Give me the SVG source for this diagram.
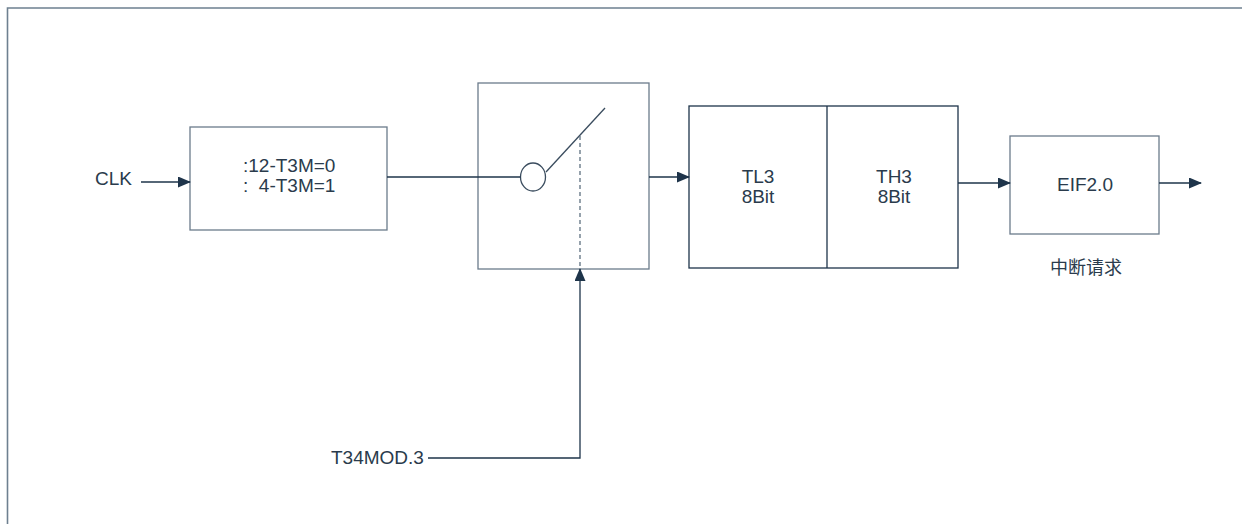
<svg xmlns="http://www.w3.org/2000/svg" width="1242" height="524" viewBox="0 0 1242 524">
<defs>
<style>
.box{fill:#fff;stroke:#6b7b8b;stroke-width:1.3}
.ln{fill:none;stroke:#1e344a;stroke-width:1.3}
.t{font-family:"Liberation Sans",Arial,sans-serif;font-size:19px;fill:#2a3b4c}
.c{text-anchor:middle}
.cjk{font-family:"Noto Sans CJK SC","Liberation Sans",sans-serif;font-size:18px;fill:#2a3b4c}
</style>
<marker id="ah" markerWidth="13" markerHeight="11" refX="12" refY="5.5" orient="auto" markerUnits="userSpaceOnUse">
<path d="M0,0 L13,5.5 L0,11 Z" fill="#1e344a"/>
</marker>
</defs>
<rect width="1242" height="524" fill="#fff"/>
<path d="M7.5,524 V8 H1242" fill="none" stroke="#6e8090" stroke-width="1.6"/>
<g id="clk"><text class="t" x="95" y="185">CLK</text></g>
<g id="divider">
<rect class="box" x="190" y="127" width="197" height="103"/>
<text class="t" x="243" y="172" style="white-space:pre">:12-T3M=0</text>
<text class="t" x="243" y="192" style="white-space:pre">:  4-T3M=1</text>
</g>
<g id="switch">
<rect class="box" x="478" y="83" width="171" height="186"/>
<ellipse cx="533" cy="177" rx="12.5" ry="14" fill="#fff" stroke="#3a4c5e" stroke-width="1.3"/>
<line x1="546" y1="172" x2="605" y2="108" stroke="#3a4c5e" stroke-width="1.3"/>
<line x1="580" y1="136" x2="580" y2="269" stroke="#5e7080" stroke-width="1.3" stroke-dasharray="4,3"/>
</g>
<g id="counter">
<rect class="box" x="689" y="106" width="269" height="162" style="stroke:#1e344a"/>
<line x1="827" y1="106" x2="827" y2="268" class="ln"/>
<text class="t c" x="758" y="183">TL3</text>
<text class="t c" x="758" y="203">8Bit</text>
<text class="t c" x="894" y="183">TH3</text>
<text class="t c" x="894" y="203">8Bit</text>
</g>
<g id="eif">
<rect class="box" x="1010" y="136" width="149" height="98"/>
<text class="t c" x="1085" y="191">EIF2.0</text>
<text class="cjk c" x="1086" y="274">中断请求</text>
</g>
<g id="mod"><text class="t" x="331" y="464">T34MOD.3</text></g>
<g id="connectors">
<line class="ln" x1="141" y1="182" x2="190" y2="182" marker-end="url(#ah)"/>
<line class="ln" x1="387" y1="177" x2="520.5" y2="177"/>
<line class="ln" x1="649" y1="177" x2="689" y2="177" marker-end="url(#ah)"/>
<line class="ln" x1="958" y1="183" x2="1010" y2="183" marker-end="url(#ah)"/>
<line class="ln" x1="1159" y1="183" x2="1201" y2="183" marker-end="url(#ah)"/>
<path class="ln" d="M428,458 H580 V269" marker-end="url(#ah)"/>
</g>
</svg>
